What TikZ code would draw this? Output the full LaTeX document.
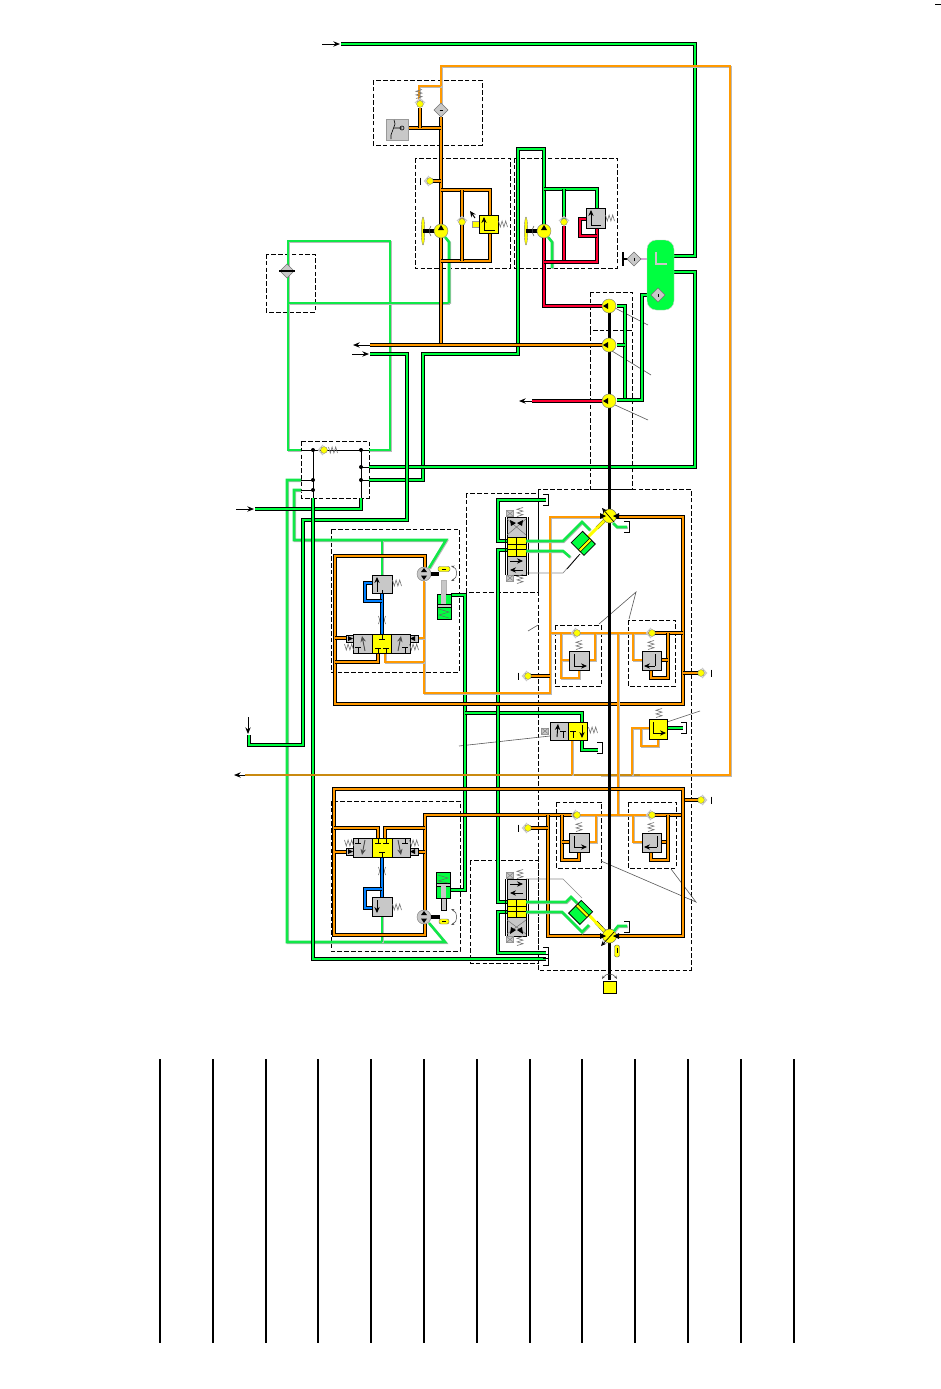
\documentclass[tikz,border=0pt]{standalone}
\usetikzlibrary{arrows.meta}
\definecolor{pg}{HTML}{00FF40}
\definecolor{pgl}{HTML}{10E848}
\definecolor{pgb}{HTML}{00FF40}
\definecolor{po}{HTML}{FF9900}
\definecolor{pod}{HTML}{C98A10}
\definecolor{pr}{HTML}{FF0033}
\definecolor{pb}{HTML}{0080FF}
\definecolor{py}{HTML}{FFFF00}
\definecolor{vg}{HTML}{C8C8C8}
\tikzset{
 pipe/.style={line width=.5pt,double distance=2pt,draw=black,miter limit=4},
 gp/.style={pipe,double=pg},
 op/.style={pipe,double=po},
 rp/.style={pipe,double=pr},
 bp/.style={pipe,double=pb},
 lg/.style={draw=pgl,line width=1.9pt,preaction={draw=gray!55,line width=1.9pt,transform canvas={xshift=.6pt,yshift=-.6pt}}},
 lo/.style={draw=po,line width=1.9pt,preaction={draw=gray!55,line width=1.9pt,transform canvas={xshift=.6pt,yshift=-.6pt}}},
 dbox/.style={draw=black,line width=.6pt,dash pattern=on 3.5pt off 1.6pt},
 blk/.style={draw=black,line width=.75pt},
 lead/.style={draw=black!65,line width=.45pt},
 ar/.style={draw=black,line width=.75pt,-{Stealth[length=5pt,width=4pt]}},
 vgb/.style={fill=vg,draw=black,line width=.75pt},
 vyb/.style={fill=py,draw=black,line width=.75pt},
 inner/.style={draw=black,line width=.7pt},
 innerA/.style={draw=black,line width=.7pt,-{Stealth[length=4.5pt,width=4pt]}},
 sp/.pic={\draw[black!55,line width=.45pt] (-4.5,-3)--(-2.7,3)--(-.9,-3)--(.9,3)--(2.7,-3)--(4.5,3);},
 chk/.pic={\draw[vg,line width=.9pt] (-1,-5)--(-5.5,0)--(-1,5);\fill[py,draw=black!50,line width=.3pt] (0,0) circle (3.4);},
 dia/.pic={\fill[vg,draw=black!55,line width=.4pt] (-7,0)--(0,-7)--(7,0)--(0,7)--cycle;\draw[black,line width=.7pt] (-1.5,0)--(1.5,0);},
 pumpY/.pic={\fill[py,draw=black!50,line width=.35pt] (0,0) circle (7);\fill[black] (-6,0)--(-1,-3)--(-1,3)--cycle;},
 pumpG/.pic={\fill[vg,draw=black!50,line width=.35pt] (0,0) circle (7);\fill[black] (0,-6)--(-3,-2)--(3,-2)--cycle;\fill[black] (0,6)--(-3,1.5)--(3,1.5)--cycle;},
 fan/.pic={\fill[py,draw=black!50,line width=.3pt] (0,0) ellipse (1.7 and 14);\draw[black,line width=2.4pt] (0,0)--(12,0);\draw[black!70,line width=.4pt] (8,-5) to[bend right=35] (8,5);},
 tbar/.pic={\draw[black,line width=.75pt] (0,-3.5)--(0,3.5);},
 brk/.pic={\draw[black,line width=.75pt] (-5,-5.5)--(0,-5.5)--(0,5.5)--(-5,5.5);},
 solb/.pic={\fill[vg,draw=black!40,line width=.4pt] (-3.5,-3)rectangle(3.5,3);\draw[black!50,line width=.35pt] (-3.5,3)--(3.5,-3);\draw[black!50,line width=.35pt] (-3.5,-3)--(3.5,3);},
}
\begin{document}
\begin{tikzpicture}[x=.75pt,y=-.75pt]
\useasboundingbox (0,0) rectangle (940,1389);
\fill[white] (0,0) rectangle (940,1389);
% corner dash and table lines
\draw[black,line width=.9pt] (935,4.5)--(941,4.5);
\foreach \x in {160,213,266,318,371,424,477,530,582,635,688,741,794}{\draw[black,line width=1.1pt] (\x,1059)--(\x,1343);}
% dashed boxes
\draw[dbox] (373,80) rectangle (482,145);
\draw[dbox] (415,158) rectangle (510,268);
\draw[dbox] (514,158) rectangle (617,268);
\draw[dbox] (266,254) rectangle (315,312);
\draw[dbox] (590,292) rectangle (632,330);
\draw[dbox] (590,330) rectangle (632,489);
\draw[dbox] (301,441) rectangle (369,498);
\draw[dbox] (466,493) rectangle (538,592);
\draw[dbox] (466,592)--(466,710);
\draw[dbox] (538,489) rectangle (691,970);
\draw[dbox] (331,529) rectangle (459,672);
\draw[dbox] (331,801) rectangle (460,951);
\draw[dbox] (470,860) rectangle (538,963);
\draw[dbox] (555,625) rectangle (601,686);
\draw[dbox] (628,620) rectangle (675,686);
\draw[dbox] (556,802) rectangle (601,868);
\draw[dbox] (628,802) rectangle (676,868);
% leaders
\draw[lead] (615,308)--(648,325);
\draw[lead] (612,351)--(651,375);
\draw[lead] (615,405)--(648,420);
\draw[lead] (599,624)--(636,592)--(629,619);
\draw[lead] (528,631)--(538,625);
\draw[lead] (459,746)--(550,736);
\draw[lead] (667,722)--(700,711);
\draw[lead] (601,861)--(696,902)--(671,869);
\draw[black!45,line width=.5pt] (526,573)--(563,573)--(578,556);
\draw[black!45,line width=.5pt] (526,879)--(563,879)--(582,898);
% --- green light lines
\draw[lg] (301,450)--(288,450)--(288,241)--(390,241)--(390,450)--(369,450);
\draw[lg] (449,303)--(288,303);
\draw[lg] (445,237)--(449,242)--(449,303);
\draw[lg] (548,237)--(552,242)--(552,268);
\draw[lg] (301,480)--(287,480)--(287,942)--(445,942)--(429,923);
\draw[lg] (301,490)--(294,490)--(294,540)--(446,540)--(429,568);
\draw[lg] (382,540)--(382,575);
\draw[lg] (382,916)--(382,942);
% --- black/green
\draw[gp] (341,44)--(695,44)--(695,256)--(672,256);
\draw[gp] (369,480)--(423,480)--(423,354)--(518,354)--(518,149)--(544,149)--(544,225);
\draw[gp] (544,189)--(597,189)--(597,208);
\draw[gp] (564,189)--(564,220);
\draw[gp] (369,467)--(695,467)--(695,272)--(672,272);
\draw[gp] (370,354)--(407,354)--(407,520)--(303,520)--(303,745)--(249,745)--(249,735);
\draw[gp] (255,509)--(361,509)--(361,498);
\draw[gp] (313,498)--(313,959)--(546,959);
\draw[gp] (617,306)--(625,306)--(625,400);
\draw[gp] (617,345)--(625,345);
\draw[gp] (617,400)--(642,400)--(642,295)--(652,295);
\draw[gp] (451,595)--(465,595)--(465,890)--(451,890);
\draw[gp] (465,713)--(582,713)--(582,750)--(598,750);
\draw[gp] (546,500)--(498,500)--(498,541)--(507,541);
\draw[gp] (507,550)--(498,550)--(498,902)--(507,902);
\draw[gp] (507,912)--(498,912)--(498,953)--(546,953);
\draw[gp] (667,728)--(683,728);
% thin black bus inside box
\draw[blk] (301,450)--(369,450);
\draw[blk] (313,450)--(313,498);
\draw[blk] (361,450)--(361,498);
\draw[blk] (301,480)--(313,480);
\draw[blk] (301,490)--(313,490);
\draw[blk] (361,467)--(369,467);
\draw[blk] (361,480)--(369,480);
\foreach \p in {(313,450),(361,450),(361,467),(361,480),(313,480),(313,490)}{\fill[black] \p circle (2);}
% --- orange
\draw[lo] (441,103)--(441,66)--(730,66)--(730,775)--(600,775);
\draw[draw=pod,line width=1.9pt] (245,775)--(640,775);
\draw[lo] (441,86)--(419,86)--(419,100);
\draw[op] (441,117)--(441,345);
\draw[op] (408,128)--(441,128);
\draw[op] (420,108)--(420,128);
\draw[op] (430,181)--(441,181);
\draw[op] (441,190)--(490,190)--(490,215);
\draw[op] (490,233)--(490,261)--(441,261);
\draw[op] (462,190)--(462,261);
\draw[op] (370,345)--(603,345);
% red
\draw[rp] (544,236)--(544,306)--(603,306);
\draw[rp] (564,226)--(564,262);
\draw[rp] (597,228)--(597,262)--(544,262);
\draw[rp] (586,219)--(580,219)--(580,236)--(597,236);
\draw[rp] (532,401)--(603,401);
% purple link
\draw[black,line width=2pt] (623,259)--(647,259);
\draw[draw=violet!35,line width=.8pt] (641,259)--(647,259);
% top section orange
\draw[op] (425,570)--(425,556)--(335,556)--(335,704)--(683,704)--(683,517)--(615,517);
\draw[lo] (424,581)--(424,693)--(550,693)--(550,517)--(603,517);
\draw[op] (335,638)--(346,638);
\draw[lo] (418,638)--(425,638);
\draw[op] (335,662)--(378,662)--(378,653);
\draw[lo] (385,653)--(385,662)--(424,662);
% centre headers
\draw[lo] (550,633)--(652,633);
\draw[op] (652,633)--(683,633);
\draw[lo] (561,633)--(561,678)--(579,678)--(579,670);
\draw[lo] (561,660)--(569,660);
\draw[lo] (589,660)--(595,660)--(595,633);
\draw[lo] (633,633)--(633,660)--(642,660);
\draw[op] (668,633)--(668,678)--(651,678)--(651,670);
\draw[op] (661,660)--(668,660);
\draw[lo] (618,633)--(618,815);
\draw[op] (528,676)--(550,676);
\draw[op] (683,673)--(701,673);
\draw[lo] (572,740)--(572,775);
\draw[lo] (632,775)--(632,728)--(649,728);
\draw[lo] (641,728)--(641,746)--(658,746)--(658,739);
% lower section orange
\draw[op] (683,800)--(701,800);
\draw[op] (425,910)--(425,815)--(577,815);
\draw[lo] (577,815)--(652,815);
\draw[op] (652,815)--(683,815);
\draw[op] (425,920)--(425,935)--(334,935)--(334,789)--(683,789)--(683,936)--(616,936);
\draw[op] (548,815)--(548,936)--(603,936);
\draw[op] (335,852)--(346,852);
\draw[op] (418,852)--(425,852);
\draw[op] (334,828)--(378,828)--(378,838);
\draw[op] (385,838)--(385,828)--(425,828);
\draw[op] (528,828)--(548,828);
\draw[op] (562,815)--(562,860)--(579,860)--(579,852);
\draw[op] (562,842)--(569,842);
\draw[lo] (589,842)--(596,842)--(596,815);
\draw[lo] (633,815)--(633,842)--(642,842);
\draw[op] (661,842)--(668,842);
\draw[op] (668,815)--(668,860)--(651,860)--(651,852);
% blue
\draw[bp] (382,594)--(382,634);
\draw[bp] (372,583)--(365,583)--(365,601)--(382,601);
\draw[bp] (382,857)--(382,897);
\draw[bp] (372,908)--(365,908)--(365,889)--(382,889);
\draw[black!60,line width=.4pt] (378.5,616) to[bend left=30] (378.5,624);
\draw[black!60,line width=.4pt] (385.5,616) to[bend right=30] (385.5,624);
\draw[black!60,line width=.4pt] (378.5,867) to[bend left=30] (378.5,875);
\draw[black!60,line width=.4pt] (385.5,867) to[bend right=30] (385.5,875);
% shaft
\draw[black,line width=2.6pt] (609.5,306)--(609.5,980);
% arrows
\draw[ar] (322,44)--(340,44);
\draw[ar] (370,345)--(353,345);
\draw[ar] (352,354)--(369,354);
\draw[ar] (532,401)--(519,401);
\draw[ar] (236,509)--(254,509);
\draw[ar] (248,717)--(248,734);
\draw[ar] (245,775)--(234,775);
% reservoir
\fill[pgb,draw=black!20,line width=.3pt,rounded corners=7] (647,240) rectangle (674,310);
\draw[black!50,line width=1.5pt] (656,252)--(656,264)--(667,264);
\draw[vg,line width=1.05pt] (656,252)--(656,264)--(667,264);
\pic[rotate=90] at (658,295) {dia};
\pic[rotate=90] at (634,259) {dia};
\draw[black,line width=.8pt] (623,252)--(623,266);
% top filter/switch
\pic at (441,110) {dia};
\pic at (287,271) {dia};
\draw[black,line width=.8pt] (279,271)--(295,271);
\pic[rotate=-90] at (420,104) {chk};
\pic[rotate=90] at (419,94) {sp};
\fill[vg,draw=black!40,line width=.4pt] (386,119) rectangle (408,140);
\draw[black,line width=.45pt] (391,139)--(391,135)--(395,124)--(394,120);
\draw[black,line width=.45pt] (394,128)--(402,128) circle (2);
% pump group 1
\pic at (430,181) {chk};
\pic at (420,181) {tbar};
\pic[rotate=-90] at (462,222) {chk};
\pic[rotate=-90] at (564,222) {chk};
\pic at (423,231) {fan};
\pic at (526,231) {fan};
\pic[rotate=-90] at (441,231) {pumpY};
\pic[rotate=-90] at (544,231) {pumpY};
\fill[py,draw=black!40,line width=.35pt] (472,221) rectangle (479,227);
\draw[innerA] (475,218)--(470,211);
\draw[vyb] (479,215) rectangle (498,233);
\draw[innerA] (484,230)--(484,217);
\draw[inner] (484,230)--(495,230);
\pic at (503,224) {sp};
\draw[vgb] (586,208) rectangle (605,228);
\draw[innerA] (591,225)--(591,210);
\draw[inner] (591,225)--(601,225);
\pic at (610,218) {sp};
\pic at (609,306) {pumpY};
\pic at (609,345) {pumpY};
\pic at (609,401) {pumpY};
% centre check in box
\pic[rotate=0] at (324,450) {chk};
\pic at (333,450) {sp};
% checks
\pic at (577,633) {chk};
\pic at (652,633) {chk};
\pic at (528,676) {chk};
\pic at (518,676) {tbar};
\pic[rotate=180] at (701,673) {chk};
\pic at (711,673) {tbar};
\pic[rotate=180] at (701,800) {chk};
\pic at (711,800) {tbar};
\pic at (577,815) {chk};
\pic at (652,815) {chk};
\pic at (528,828) {chk};
\pic at (518,828) {tbar};
% relief valves
\draw[vgb] (569,651) rectangle (589,670);
\draw[inner] (574,654)--(574,666);
\draw[innerA] (574,666)--(587,666);
\draw[vgb] (642,651) rectangle (661,670);
\draw[inner] (655,654)--(655,666);
\draw[innerA] (655,666)--(644,666);
\pic[rotate=90] at (579,645) {sp};
\pic[rotate=90] at (651,645) {sp};
\draw[vgb] (569,833) rectangle (589,852);
\draw[inner] (574,836)--(574,847);
\draw[innerA] (574,847)--(587,847);
\draw[vgb] (642,833) rectangle (661,852);
\draw[inner] (657,836)--(657,847);
\draw[innerA] (657,847)--(644,847);
\pic[rotate=90] at (579,827) {sp};
\pic[rotate=90] at (651,827) {sp};
% middle valve
\pic at (545,731) {solb};
\draw[vgb] (550,722) rectangle (568,740);
\draw[vyb] (568,722) rectangle (587,740);
\draw[innerA] (557,737)--(558,724);
\draw[inner] (563,731)--(563,738);\draw[inner] (560,731)--(566,731);
\draw[innerA] (582,725)--(582,738);
\draw[inner] (573,731)--(573,738);\draw[inner] (570,731)--(576,731);
\pic at (593,730) {sp};
\draw[vyb] (649,719) rectangle (667,739);
\draw[inner] (653,722)--(653,733);
\draw[innerA] (653,733)--(666,733);
\pic[rotate=90] at (659,713) {sp};
% brackets
\pic at (548,500) {brk};
\pic at (629,527) {brk};
\pic at (602,748) {brk};
\pic at (686,728) {brk};
\pic at (629,927) {brk};
\pic at (548,953) {brk};
\pic at (548,960) {brk};
% upper 4-way valve
\draw[vgb] (353,634) rectangle (372,653);
\draw[vyb] (372,634) rectangle (391,653);
\draw[vgb] (391,634) rectangle (410,653);
\fill[vg,draw=black,line width=.7pt] (346,635) rectangle (353,642);
\fill[vg,draw=black,line width=.7pt] (410,635) rectangle (418,642);
\fill[black] (353,638.5)--(348,636)--(348,641)--cycle;
\fill[black] (410,638.5)--(415,636)--(415,641)--cycle;
\pic at (349,647) {sp};
\pic at (414,647) {sp};
\draw[innerA,draw=black!70] (365,651)--(362,636);
\draw[innerA,draw=black!70] (398,651)--(401,636);
\draw[inner] (358,647)--(358,653);\draw[inner] (355,647)--(361,647);
\draw[inner] (405,647)--(405,653);\draw[inner] (402,647)--(408,647);
\draw[inner] (382,634)--(382,639);\draw[inner] (379,639)--(385,639);
\draw[inner] (378,648)--(378,653);\draw[inner] (375,648)--(381,648);
\draw[inner] (386,648)--(386,653);\draw[inner] (383,648)--(389,648);
\draw[vgb] (372,575) rectangle (392,593);
\draw[innerA] (377,590)--(377,577);
\draw[inner] (377,590)--(377,592);
\draw[inner] (382,590)--(382,593);
\pic at (397,583) {sp};
% upper motor & cylinder
\pic at (424,574) {pumpG};
\draw[black,line width=2.4pt] (431,574)--(439,574);
\fill[py,draw=black!60,line width=.35pt,rounded corners=1.5] (438,566.5) rectangle (450,571.5);
\draw[black,line width=.5pt] (442,569)--(446,569);
\draw[black!70,line width=.4pt,{Stealth[length=2.5pt]}-{Stealth[length=2.5pt]}] (451,566) .. controls (458,568) and (458,578) .. (451,581);
\fill[vg,draw=black!30,line width=.3pt] (441,580) rectangle (446,600);
\fill[pgb,draw=black,line width=.6pt] (437,594) rectangle (451,619);
\fill[vg,draw=black,line width=.5pt] (437,604) rectangle (451,607);
\fill[vg,draw=none] (441,594) rectangle (446,604);
\draw[black!60,line width=.35pt] (439,609)--(449,612)--(439,615)--(449,618);
% lower 4-way valve
\draw[vgb] (353,838) rectangle (372,857);
\draw[vyb] (372,838) rectangle (392,857);
\draw[vgb] (392,838) rectangle (410,857);
\fill[vg,draw=black,line width=.7pt] (346,848) rectangle (353,855);
\fill[vg,draw=black,line width=.7pt] (410,848) rectangle (418,855);
\fill[black] (353,851.5)--(348,849)--(348,854)--cycle;
\fill[black] (410,851.5)--(415,849)--(415,854)--cycle;
\pic at (349,843) {sp};
\pic at (414,843) {sp};
\draw[innerA,draw=black!70] (365,840)--(362,855);
\draw[innerA,draw=black!70] (398,840)--(401,855);
\draw[inner] (358,838)--(358,843);\draw[inner] (355,843)--(361,843);
\draw[inner] (405,838)--(405,843);\draw[inner] (402,843)--(408,843);
\draw[inner] (382,857)--(382,852);\draw[inner] (379,852)--(385,852);
\draw[inner] (378,838)--(378,843);\draw[inner] (375,843)--(381,843);
\draw[inner] (386,838)--(386,843);\draw[inner] (383,843)--(389,843);
\draw[vgb] (372,897) rectangle (392,916);
\draw[innerA] (377,900)--(377,913);
\pic at (397,907) {sp};
\pic at (424,917) {pumpG};
\draw[black,line width=2.4pt] (431,917)--(440,917);
\fill[py,draw=black!60,line width=.35pt,rounded corners=1.5] (439,919) rectangle (449,924);
\draw[black,line width=.5pt] (442,921.5)--(446,921.5);
\draw[black!70,line width=.4pt,{Stealth[length=2.5pt]}-{Stealth[length=2.5pt]}] (451,909) .. controls (458,912) and (458,922) .. (451,925);
\fill[vg,draw=black,line width=.4pt] (441,890) rectangle (446,910);
\fill[pgb,draw=black,line width=.6pt] (436,872) rectangle (450,898);
\fill[vg,draw=black,line width=.5pt] (436,883) rectangle (450,886);
\fill[vg,draw=none] (441,886) rectangle (446,898);
\draw[black!60,line width=.35pt] (438,875)--(448,878)--(438,881)--(448,883);
% upper spool valve vertical
\draw[vgb] (507,517) rectangle (526,537);
\draw[vyb] (507,537) rectangle (526,556);
\draw[vgb] (507,556) rectangle (526,575);
\draw[black!55,line width=.4pt] (507,519)--(526,535);\draw[black!55,line width=.4pt] (526,519)--(507,535);
\fill[black] (510,520)--(516,523)--(511,526)--cycle;\fill[black] (523,520)--(517,523)--(522,526)--cycle;
\draw[inner] (507,544)--(526,544);\draw[inner] (507,549)--(526,549);\draw[inner] (516.5,537)--(516.5,556);
\draw[innerA] (510,561)--(523,561);\draw[innerA] (523,570)--(510,570);
\pic at (510,513.5) {solb};
\pic at (510,578) {solb};
\pic[rotate=90] at (520,512) {sp};
\pic[rotate=90] at (520,579) {sp};
\draw[black,line width=.6pt] (505,517)--(505,575);
\draw[black,line width=.6pt] (528,517)--(528,575);
% lower spool
\draw[vgb] (507,879) rectangle (526,899);
\draw[vyb] (507,899) rectangle (526,917);
\draw[vgb] (507,917) rectangle (526,936);
\draw[black!55,line width=.4pt] (507,920)--(526,934);\draw[black!55,line width=.4pt] (526,920)--(507,934);
\fill[black] (510,934)--(516,930)--(511,927)--cycle;\fill[black] (523,934)--(517,930)--(522,927)--cycle;
\draw[inner] (507,906)--(526,906);\draw[inner] (507,911)--(526,911);\draw[inner] (516.5,899)--(516.5,917);
\draw[innerA] (510,884)--(523,884);\draw[innerA] (523,893)--(510,893);
\pic at (510,875.5) {solb};
\pic at (510,939.5) {solb};
\pic[rotate=90] at (520,874) {sp};
\pic[rotate=90] at (520,941) {sp};
\draw[black,line width=.6pt] (505,879)--(505,936);
\draw[black,line width=.6pt] (528,879)--(528,936);
% upper cylinder (rotated)
\draw[lg] (526,541)--(563,541)--(582,522)--(590,530);
\draw[lg] (526,551)--(563,551)--(570,557);
\draw[black,line width=2.6pt] (597,528)--(609,516);
\draw[py,line width=2.2pt] (588,537)--(609,516);
\begin{scope}[shift={(584,544)},rotate=-45]
\fill[pgb,draw=black,line width=.6pt] (-10,-8) rectangle (8,8);
\fill[py,draw=black,line width=.4pt] (0,-8) rectangle (3,8);
\end{scope}
\draw[black,line width=.55pt] (567,569)--(580,554);
% lower cylinder (rotated)
\draw[lg] (526,902)--(566,902)--(571,897)--(577,903);
\draw[lg] (526,912)--(562,912)--(582,932)--(589,925);
\draw[black,line width=2.6pt] (596,922)--(609,936);
\draw[py,line width=2.2pt] (586,912)--(609,936);
\begin{scope}[shift={(582,911)},rotate=45]
\fill[pgb,draw=black,line width=.6pt] (-11,-8) rectangle (7,8);
\fill[py,draw=black,line width=.4pt] (-1,-8) rectangle (2,8);
\end{scope}
% variable pumps
\fill[py,draw=black!60,line width=.35pt] (609.5,516) circle (7);
\fill[black] (606,516)--(600,513)--(600,519)--cycle;
\fill[black] (613,516)--(619,513)--(619,519)--cycle;
\draw[black,line width=.5pt,-{Stealth[length=4pt,width=3.5pt]}] (614,522)--(602,508);
\fill[py,draw=black!60,line width=.35pt] (609.5,936) circle (7);
\fill[black] (606,936)--(600,933)--(600,939)--cycle;
\fill[black] (613,936)--(619,933)--(619,939)--cycle;
\draw[black,line width=.5pt,-{Stealth[length=4pt,width=3.5pt]}] (616,930)--(601,946);
\draw[lg] (627,527)--(617,527)--(613,523);
\draw[lg] (627,926)--(618,926)--(614,931);
\fill[py,draw=black!60,line width=.35pt,rounded corners=1.5] (614.5,945) rectangle (619.5,957);
\draw[black,line width=.5pt] (617,948)--(617,953);
% end drive
\fill[py,draw=black,line width=.6pt] (603,981) rectangle (616,993);
\draw[black!70,line width=.4pt,{Stealth[length=2.5pt]}-{Stealth[length=2.5pt]}] (602,979) .. controls (606,973) and (613,973) .. (617,979);
\end{tikzpicture}
\end{document}
